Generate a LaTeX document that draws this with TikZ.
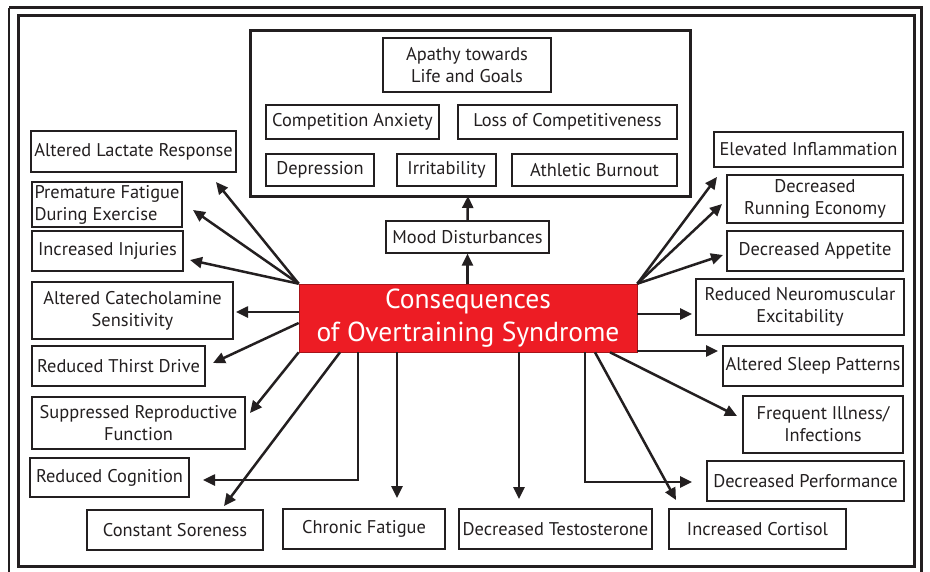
\documentclass[tikz,border=0pt]{standalone}
\usepackage{fontspec}
\setmainfont{PT Sans}
\usetikzlibrary{arrows.meta}
\definecolor{corered}{HTML}{ED1C24}
\definecolor{ink}{HTML}{231F20}
\tikzset{
  box/.style={draw=ink, line width=1.1pt, inner sep=1pt, align=center,
    font=\fontsize{18.4}{22}\selectfont, text=ink},
  grp/.style={draw=ink, line width=3pt},
  link/.style={draw=ink, line width=2.5pt,
    -{Triangle[length=12pt,width=11pt]}},
}
\newcommand{\bx}[6]{% name, cx, cy, w, h, text
  \node[box, minimum width=#4pt, minimum height=#5pt] (#1) at (#2,#3) {#6};}
\begin{document}
\begin{tikzpicture}[x=1pt,y=-1pt]
\useasboundingbox (0,0) rectangle (930,571);
% double frame
\draw[ink, line width=2.4pt] (9,7.5) -- (921.5,7.5) -- (921.5,580) (9,580) -- (9,7.5);
\draw[ink, line width=3pt] (18,15) rectangle (914.5,566.5);

% mood group
\draw[grp] (250,30) rectangle (690,196);
\coordinate (grpS) at (468,196);
\bx{apathy}{467}{65}{168}{54}{Apathy towards\\Life and Goals}
\bx{comp}{352.5}{122}{173}{34}{Competition Anxiety}
\bx{loss}{567.5}{122}{219}{34}{Loss of Competitiveness}
\bx{dep}{320}{170}{108}{32}{Depression}
\bx{irr}{446.5}{170}{99}{32}{Irritability}
\bx{burn}{594.5}{170}{165}{32}{Athletic Burnout}
\bx{mood}{467.5}{237}{163}{32}{Mood Disturbances}

% central node
\node[fill=corered, draw=corered!70!black, line width=0.6pt, minimum width=338pt,
  minimum height=68pt, inner sep=0pt, text=white, align=center,
  font=\fontsize{27.5}{33}\selectfont] (core) at (468,318) {Consequences\\of Overtraining Syndrome};

% left column
\bx{lact}{133.5}{151.5}{205}{41}{Altered Lactate Response}
\node[box, minimum width=150pt, minimum height=45pt, align=left] (prem) at (107,204.5) {Premature Fatigue\\During Exercise};
\bx{inj}{107.5}{251}{151}{40}{Increased Injuries}
\bx{cate}{132.5}{310.5}{201}{57}{Altered Catecholamine\\Sensitivity}
\bx{thirst}{118.5}{366}{173}{40}{Reduced Thirst Drive}
\bx{repro}{138.5}{423}{213}{52}{Suppressed Reproductive\\Function}
\bx{cogn}{109.5}{477.5}{159}{39}{Reduced Cognition}

% bottom row
\bx{sore}{175}{530}{176}{40}{Constant Soreness}
\bx{chronic}{364}{529}{162}{40}{Chronic Fatigue}
\bx{testo}{555.5}{529}{193}{40}{Decreased Testosterone}
\bx{cort}{757.5}{529}{177}{40}{Increased Cortisol}

% right column
\bx{infl}{808.5}{149.5}{189}{35}{Elevated Inflammation}
\bx{run}{815}{199}{176}{48}{Decreased\\Running Economy}
\bx{appet}{815}{251}{176}{40}{Decreased Appetite}
\bx{neuro}{800}{307}{208}{56}{Reduced Neuromuscular\\Excitability}
\bx{sleep}{813}{366}{180}{40}{Altered Sleep Patterns}
\bx{ill}{823}{424.5}{160}{57}{Frequent Illness/\\Infections}
\bx{perf}{805.5}{481}{197}{40}{Decreased Performance}

% arrow tips
\coordinate (tLact) at (216,182);
\coordinate (tPrem) at (193,210);
\coordinate (tInj) at (190,260);
\coordinate (tCate) at (236,312);
\coordinate (tThirst) at (213,363);
\coordinate (tRepro) at (250,413);
\coordinate (tCogn) at (203,480);
\coordinate (tSore) at (224,506);
\coordinate (tChronic) at (397,498);
\coordinate (tTesto) at (519,499);
\coordinate (tCort) at (676,500);
\coordinate (tPerf) at (692,482);
\coordinate (tIll) at (737,416);
\coordinate (tSleep) at (718,351);
\coordinate (tNeuro) at (692,314);
\coordinate (tAppet) at (723,255);
\coordinate (tRun) at (722,204);
\coordinate (tInfl) at (717,177);

% connectors
\draw[link] (mood.north) -- (grpS);
\draw[link] (core.north -| mood.south) -- (mood.south);
\draw[link] (core.north west) -- (tLact);
\draw[link] (core.north west) -- (tPrem);
\draw[link] (core.north west) -- (tInj);
\draw[link] (core.west |- tCate) -- (tCate);
\draw[link] ([yshift=-5pt]core.west) -- (tThirst);
\draw[link] (core.south west) -- (tRepro);
\draw[link] (core.south -| 358,0) -- (358,480) -- (tCogn);
\draw[link] (core.south -| 340,0) -- (tSore);
\draw[link] (core.south -| tChronic) -- (tChronic);
\draw[link] (core.south -| tTesto) -- (tTesto);
\draw[link] (core.south -| 585,0) -- (585,482) -- (tPerf);
\draw[link] (core.south -| 595,0) -- (tCort);
\draw[link] (core.south -| 610,0) -- (tIll);
\draw[link] (core.south east |- tSleep) -- (tSleep);
\draw[link] (core.east |- tNeuro) -- (tNeuro);
\draw[link] (core.north east) -- (tAppet);
\draw[link] (core.north east) -- (tRun);
\draw[link] (core.north east) -- (tInfl);
\end{tikzpicture}
\end{document}
